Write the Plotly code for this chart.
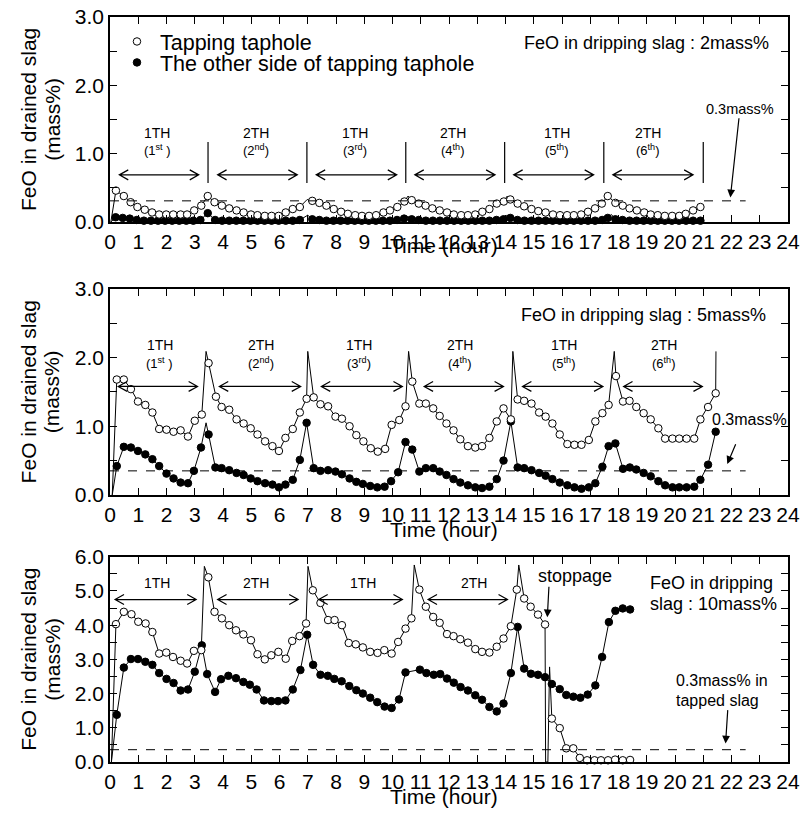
import plotly.graph_objects as go

# ---------------- DATA ----------------
X_TICKS = list(range(0, 25))

# Panel 1 : FeO in dripping slag 2 mass%
P1_T_OPEN = [0.21, 0.49, 0.73, 0.97, 1.23, 1.49, 1.74, 1.99, 2.24, 2.5, 2.73, 2.98, 3.23, 3.46,
             3.7, 3.96, 4.22, 4.48, 4.73, 4.99, 5.22, 5.48, 5.72, 5.97, 6.22, 6.47, 6.72,
             7.16, 7.41, 7.66, 7.92, 8.18, 8.42, 8.68, 8.92, 9.17, 9.42, 9.68, 9.91, 10.17, 10.42,
             10.68, 10.93, 11.17, 11.41, 11.67, 11.93, 12.17, 12.43, 12.67, 12.93, 13.18, 13.43, 13.69, 13.94,
             14.17, 14.43, 14.66, 14.92, 15.16, 15.42, 15.68, 15.93, 16.18, 16.42, 16.68, 16.92, 17.17, 17.41, 17.62,
             17.89, 18.15, 18.39, 18.65, 18.91, 19.14, 19.39, 19.64, 19.9, 20.15, 20.38, 20.64, 20.9]
P1_Y_OPEN = [0.46, 0.38, 0.29, 0.22, 0.18, 0.14, 0.11, 0.11, 0.11, 0.11, 0.11, 0.17, 0.24, 0.38,
             0.29, 0.24, 0.20, 0.17, 0.14, 0.11, 0.10, 0.09, 0.09, 0.09, 0.14, 0.19, 0.22,
             0.31, 0.28, 0.24, 0.19, 0.15, 0.12, 0.10, 0.09, 0.09, 0.10, 0.14, 0.17, 0.22, 0.30,
             0.32, 0.27, 0.24, 0.20, 0.17, 0.14, 0.11, 0.10, 0.10, 0.11, 0.15, 0.19, 0.27, 0.30,
             0.33, 0.27, 0.23, 0.19, 0.16, 0.14, 0.11, 0.10, 0.10, 0.10, 0.11, 0.15, 0.20, 0.27, 0.38,
             0.28, 0.24, 0.20, 0.17, 0.14, 0.11, 0.10, 0.09, 0.09, 0.09, 0.12, 0.17, 0.22]
P1_T_OPEN_SPIKE = [0.03, 6.98, 10.55, 14.06]
P1_Y_OPEN_SPIKE = [0.0, 0.33, 0.38, 0.38]

P1_T_FILL = [0.2, 0.45, 0.7, 0.95, 1.2, 1.45, 1.7, 1.95, 2.2, 2.45, 2.7, 2.95, 3.2, 3.46,
             3.72, 3.97, 4.22, 4.47, 4.72, 4.97, 5.22, 5.47, 5.72, 5.97, 6.22, 6.47, 6.72,
             7.16, 7.41, 7.66, 7.91, 8.16, 8.41, 8.66, 8.91, 9.16, 9.41, 9.66, 9.91, 10.16, 10.41,
             10.68, 10.93, 11.18, 11.43, 11.68, 11.93, 12.18, 12.43, 12.68, 12.93, 13.18, 13.43, 13.68, 13.93,
             14.17, 14.42, 14.67, 14.92, 15.17, 15.42, 15.67, 15.92, 16.17, 16.42, 16.67, 16.92, 17.17, 17.42, 17.62,
             17.89, 18.14, 18.39, 18.64, 18.89, 19.14, 19.39, 19.64, 19.89, 20.14, 20.39, 20.64, 20.9]
P1_Y_FILL = [0.07, 0.06, 0.05, 0.03, 0.02, 0.02, 0.02, 0.02, 0.02, 0.02, 0.02, 0.02, 0.03, 0.13,
             0.03, 0.02, 0.02, 0.02, 0.02, 0.02, 0.02, 0.02, 0.02, 0.02, 0.02, 0.02, 0.03,
             0.04, 0.03, 0.02, 0.02, 0.02, 0.02, 0.02, 0.02, 0.02, 0.02, 0.02, 0.02, 0.03, 0.05,
             0.04, 0.03, 0.02, 0.02, 0.02, 0.02, 0.02, 0.02, 0.02, 0.02, 0.02, 0.02, 0.03, 0.04,
             0.06, 0.03, 0.02, 0.02, 0.02, 0.02, 0.02, 0.02, 0.02, 0.02, 0.02, 0.02, 0.02, 0.03, 0.06,
             0.04, 0.03, 0.02, 0.02, 0.02, 0.02, 0.02, 0.02, 0.02, 0.02, 0.02, 0.02, 0.02]
P1_T_FILL_SPIKE = [0.03, 7.0, 10.55, 14.05, 17.75]
P1_Y_FILL_SPIKE = [0.0, 0.10, 0.08, 0.10, 0.11]

# Panel 2 : FeO in dripping slag 5 mass%
P2_T_OPEN = [0.24, 0.49, 0.74, 0.99, 1.25, 1.5, 1.74, 2.0, 2.25, 2.5, 2.76, 3.0, 3.25, 3.49,
             3.75, 3.95, 4.22, 4.48, 4.73, 4.98, 5.22, 5.49, 5.75, 5.98, 6.21, 6.47, 6.72, 6.96,
             7.21, 7.45, 7.72, 7.98, 8.21, 8.48, 8.72, 8.97, 9.23, 9.48, 9.74, 9.97, 10.24, 10.46, 10.7,
             10.95, 11.18, 11.44, 11.67, 11.91, 12.16, 12.4, 12.67, 12.93, 13.17, 13.43, 13.69, 13.93, 14.19,
             14.43, 14.66, 14.92, 15.19, 15.42, 15.66, 15.92, 16.19, 16.44, 16.69, 16.95, 17.18, 17.43, 17.65, 17.91,
             18.16, 18.39, 18.63, 18.89, 19.14, 19.41, 19.65, 19.91, 20.15, 20.41, 20.68, 20.9, 21.17, 21.44]
P2_Y_OPEN = [1.68, 1.68, 1.54, 1.36, 1.31, 1.20, 0.96, 0.95, 0.92, 0.94, 0.85, 1.08, 1.17, 1.92,
             1.43, 1.28, 1.24, 1.10, 1.04, 0.97, 0.88, 0.78, 0.71, 0.64, 0.83, 0.96, 1.20, 1.40,
             1.42, 1.32, 1.29, 1.14, 1.11, 1.00, 0.87, 0.78, 0.68, 0.63, 0.67, 1.02, 1.09, 1.29, 1.65,
             1.33, 1.33, 1.26, 1.15, 1.04, 0.94, 0.81, 0.71, 0.69, 0.71, 0.83, 1.07, 1.26, 1.10,
             1.39, 1.37, 1.33, 1.20, 1.14, 1.04, 0.88, 0.74, 0.73, 0.73, 0.80, 1.07, 1.19, 1.31, 1.73,
             1.36, 1.37, 1.28, 1.19, 1.10, 0.97, 0.82, 0.82, 0.82, 0.82, 0.82, 1.10, 1.28, 1.48]
P2_T_OPEN_SPIKE = [0.08, 3.40, 7.0, 10.57, 14.26, 17.85, 21.45]
P2_Y_OPEN_SPIKE = [0.0, 2.09, 2.09, 2.09, 2.09, 2.09, 2.09]

P2_T_FILL = [0.24, 0.49, 0.74, 0.99, 1.25, 1.5, 1.74, 2.0, 2.25, 2.5, 2.76, 2.97, 3.22, 3.49,
             3.73, 3.95, 4.22, 4.48, 4.73, 4.98, 5.22, 5.49, 5.75, 5.98, 6.21, 6.47, 6.72, 6.96,
             7.21, 7.45, 7.72, 7.98, 8.21, 8.48, 8.72, 8.95, 9.21, 9.46, 9.72, 9.95, 10.2, 10.46, 10.7,
             10.95, 11.18, 11.44, 11.67, 11.91, 12.16, 12.4, 12.67, 12.93, 13.17, 13.43, 13.69, 13.93, 14.19,
             14.43, 14.66, 14.92, 15.19, 15.42, 15.66, 15.92, 16.19, 16.44, 16.69, 16.95, 17.18, 17.43, 17.65, 17.89,
             18.16, 18.4, 18.63, 18.89, 19.14, 19.41, 19.65, 19.91, 20.15, 20.41, 20.68, 20.9, 21.17, 21.44]
P2_Y_FILL = [0.42, 0.70, 0.69, 0.64, 0.59, 0.52, 0.42, 0.31, 0.24, 0.18, 0.17, 0.35, 0.69, 0.88,
             0.40, 0.39, 0.36, 0.32, 0.29, 0.24, 0.20, 0.17, 0.15, 0.11, 0.15, 0.22, 0.51, 1.05,
             0.39, 0.35, 0.36, 0.34, 0.30, 0.24, 0.19, 0.16, 0.13, 0.11, 0.12, 0.20, 0.33, 0.77, 0.66,
             0.34, 0.39, 0.39, 0.34, 0.29, 0.23, 0.18, 0.14, 0.11, 0.10, 0.12, 0.23, 0.50, 1.07,
             0.40, 0.39, 0.36, 0.32, 0.28, 0.23, 0.18, 0.14, 0.11, 0.09, 0.11, 0.17, 0.41, 0.71, 0.75,
             0.38, 0.40, 0.37, 0.32, 0.27, 0.20, 0.14, 0.11, 0.11, 0.11, 0.12, 0.22, 0.44, 0.92]
P2_T_FILL_SPIKE = [0.08, 3.40]
P2_Y_FILL_SPIKE = [0.0, 1.05]

# Panel 3 : FeO in dripping slag 10 mass%
P3_T_OPEN = [0.21, 0.49, 0.76, 1.0, 1.26, 1.5, 1.74, 1.99, 2.23, 2.5, 2.73, 2.97, 3.23, 3.48,
             3.7, 3.96, 4.22, 4.46, 4.72, 4.99, 5.22, 5.48, 5.71, 5.96, 6.22, 6.45, 6.71, 6.94,
             7.18, 7.45, 7.72, 7.95, 8.21, 8.45, 8.7, 8.95, 9.21, 9.47, 9.71, 9.97, 10.2, 10.46, 10.67,
             10.95, 11.18, 11.44, 11.67, 11.93, 12.16, 12.4, 12.67, 12.93, 13.17, 13.43, 13.69, 13.93, 14.19,
             14.4, 14.66, 14.89, 15.15, 15.4,
             15.64, 15.92, 16.15, 16.4, 16.63, 16.89, 17.15, 17.38, 17.63, 17.88, 18.15, 18.41]
P3_Y_OPEN = [4.03, 4.39, 4.32, 4.10, 4.05, 3.80, 3.17, 3.20, 3.07, 2.96, 2.88, 3.25, 3.27, 5.40,
             4.39, 4.20, 4.00, 3.85, 3.73, 3.56, 3.15, 3.00, 3.12, 3.22, 3.02, 3.54, 3.68, 4.05,
             5.02, 4.65, 4.15, 4.15, 4.00, 3.48, 3.44, 3.35, 3.22, 3.19, 3.27, 3.17, 3.51, 3.90, 4.20,
             5.04, 4.54, 4.24, 4.07, 3.74, 3.68, 3.59, 3.49, 3.30, 3.22, 3.20, 3.37, 3.61, 3.97,
             5.04, 4.78, 4.54, 4.31, 4.02,
             1.27, 0.99, 0.40, 0.40, 0.12, 0.05, 0.05, 0.05, 0.05, 0.07, 0.05, 0.06]
P3_T_OPEN_SPIKE = [0.05, 3.34, 7.01, 10.77, 14.47, 15.42, 15.5, 15.56]
P3_Y_OPEN_SPIKE = [0.0, 5.72, 5.72, 5.76, 5.76, 0.0, 0.0, 2.78]

P3_T_FILL = [0.24, 0.49, 0.74, 0.99, 1.25, 1.5, 1.74, 2.0, 2.25, 2.5, 2.76, 3.0, 3.25, 3.44,
             3.72, 3.93, 4.19, 4.46, 4.72, 4.95, 5.19, 5.45, 5.71, 5.95, 6.21, 6.47, 6.74, 6.98,
             7.19, 7.45, 7.71, 7.94, 8.2, 8.47, 8.72, 8.95, 9.21, 9.46, 9.72, 9.97, 10.23, 10.46,
             10.97, 11.2, 11.46, 11.69, 11.93, 12.17, 12.41, 12.67, 12.93, 13.17, 13.43, 13.69, 13.93, 14.19,
             14.43, 14.66, 14.9, 15.15, 15.4, 15.64, 15.92, 16.15, 16.4, 16.65, 16.91, 17.18, 17.42, 17.66,
             17.89, 18.15, 18.41]
P3_Y_FILL = [1.38, 2.76, 3.01, 3.01, 2.93, 2.84, 2.60, 2.43, 2.31, 2.09, 2.12, 2.64, 3.41, 2.57,
             2.05, 2.42, 2.52, 2.45, 2.34, 2.26, 2.12, 1.80, 1.78, 1.78, 1.80, 2.12, 2.69, 3.72,
             2.84, 2.55, 2.52, 2.43, 2.36, 2.22, 2.10, 2.00, 1.88, 1.75, 1.62, 1.58, 1.83, 2.62,
             2.70, 2.60, 2.55, 2.57, 2.44, 2.32, 2.19, 2.09, 1.95, 1.82, 1.61, 1.48, 1.71, 2.60,
             3.95, 2.73, 2.58, 2.55, 2.48, 2.28, 2.13, 1.96, 1.91, 1.88, 1.97, 2.24, 3.07, 4.09,
             4.42, 4.49, 4.46]
P3_T_FILL_SPIKE = [0.05]
P3_Y_FILL_SPIKE = [0.0]

REF_LEVEL = [0.31, 0.35, 0.36]          # "0.3mass%" dashed reference per panel
REF_END = 22.5
TAP_TIMES_P1 = [3.47, 6.97, 10.47, 13.97, 17.48, 21.0]

HOLES_P12 = ["1TH", "2TH", "1TH", "2TH", "1TH", "2TH"]
ORDINALS = ["(1<sup>st</sup> )", "(2<sup>nd</sup>)", "(3<sup>rd</sup>)",
            "(4<sup>th</sup>)", "(5<sup>th</sup>)", "(6<sup>th</sup>)"]
HOLES_P3 = ["1TH", "2TH", "1TH", "2TH"]

P1_ARROWS = [(0.33, 3.14), (3.81, 6.63), (7.3, 10.15), (10.79, 13.63), (14.29, 17.12), (17.8, 20.64)]
P1_LABEL_X = [1.67, 5.16, 8.68, 12.14, 15.81, 19.06]
P2_ARROWS = [(0.29, 3.1), (3.87, 6.75), (7.48, 10.35), (11.12, 13.93), (14.6, 17.45), (18.18, 20.97)]
P2_LABEL_X = [1.76, 5.33, 8.8, 12.4, 16.07, 19.6]
P3_ARROWS = [(0.18, 3.05), (3.81, 6.66), (7.39, 10.35), (11.26, 14.07)]
P3_LABEL_X = [1.65, 5.16, 8.97, 12.9]

# ---------------- FIGURE ----------------
FONT = "Arial, Liberation Sans, sans-serif"
W, H = 805, 814
YS, Y0 = 0.986, 10.0         # page capture: screen_row = Y0 + YS * figure_row


def fy(ry):                  # wanted screen row -> figure row
    return (ry - Y0) / YS


ML, MR = 110, 13
MT = fy(15)
MB = H - fy(761.7)
PW = W - ML - MR
PH = H - MT - MB


def py(ry):  # screen row -> paper y
    return (H - MB - fy(ry)) / PH


def px(rx):
    return (rx - ML) / PW


panels = [
    dict(x="x", y="y", dom=[py(220.5), 1.0], ymax=3.0),
    dict(x="x2", y="y2", dom=[py(494), py(287.5)], ymax=3.0),
    dict(x="x3", y="y3", dom=[0.0, py(556)], ymax=6.0),
]

fig = go.Figure()


def add_series(pi, t_mk, y_mk, t_sp, y_sp, filled, name, legend):
    p = panels[pi]
    pts = sorted(zip(list(t_mk) + list(t_sp), list(y_mk) + list(y_sp)))
    fig.add_trace(go.Scatter(x=[a for a, b in pts], y=[b for a, b in pts], mode="lines",
                             line=dict(color="black", width=1), xaxis=p["x"], yaxis=p["y"],
                             showlegend=False, hoverinfo="skip", cliponaxis=False))
    fig.add_trace(go.Scatter(x=t_mk, y=y_mk, mode="markers", name=name,
                             marker=dict(symbol="circle", size=7.5,
                                         color="black" if filled else "white",
                                         line=dict(color="black", width=1)),
                             xaxis=p["x"], yaxis=p["y"], cliponaxis=False,
                             showlegend=legend is not None, legend=legend or "legend"))


add_series(0, P1_T_FILL, P1_Y_FILL, P1_T_FILL_SPIKE, P1_Y_FILL_SPIKE, True,
           "The other side of tapping taphole", "legend2")
add_series(0, P1_T_OPEN, P1_Y_OPEN, P1_T_OPEN_SPIKE, P1_Y_OPEN_SPIKE, False,
           "Tapping taphole", "legend")
add_series(1, P2_T_FILL, P2_Y_FILL, P2_T_FILL_SPIKE, P2_Y_FILL_SPIKE, True, "fill2", None)
add_series(1, P2_T_OPEN, P2_Y_OPEN, P2_T_OPEN_SPIKE, P2_Y_OPEN_SPIKE, False, "open2", None)
add_series(2, P3_T_FILL, P3_Y_FILL, P3_T_FILL_SPIKE, P3_Y_FILL_SPIKE, True, "fill3", None)
add_series(2, P3_T_OPEN, P3_Y_OPEN, P3_T_OPEN_SPIKE, P3_Y_OPEN_SPIKE, False, "open3", None)

layout = dict(
    width=W, height=H, margin=dict(l=ML, r=MR, t=MT, b=MB),
    paper_bgcolor="white", plot_bgcolor="white",
    font=dict(family=FONT, color="black", size=21),
    legend=dict(x=px(114), y=py(19), xanchor="left", yanchor="top",
                font=dict(family=FONT, size=21.5), bgcolor="rgba(0,0,0,0)",
                itemwidth=36, tracegroupgap=0),
    legend2=dict(x=px(114), y=py(40), xanchor="left", yanchor="top",
                 font=dict(family=FONT, size=21.5), bgcolor="rgba(0,0,0,0)",
                 itemwidth=36, tracegroupgap=0),
)

for i, p in enumerate(panels):
    k = "" if i == 0 else str(i + 1)
    step = 0.5
    n = int(round(p["ymax"] / step))
    yv = [j * step for j in range(n + 1)]
    yt = [f"{v:.1f}" if abs(v - round(v)) < 1e-9 else "" for v in yv]
    layout["xaxis" + k] = dict(domain=[0, 1], anchor="y" + k, range=[0, 24],
                               tickvals=X_TICKS, ticktext=[str(v) for v in X_TICKS],
                               ticks="inside", ticklen=7, tickwidth=1.3, tickcolor="black",
                               showline=True, linecolor="black", linewidth=1.6,
                               mirror="ticks", showgrid=False, zeroline=False,
                               tickfont=dict(size=21, family=FONT))
    layout["yaxis" + k] = dict(domain=p["dom"], anchor="x" + k, range=[0, p["ymax"]],
                               tickvals=yv, ticktext=yt,
                               ticks="inside", ticklen=7, tickwidth=1.3, tickcolor="black",
                               showline=True, linecolor="black", linewidth=1.6,
                               mirror="ticks", showgrid=False, zeroline=False,
                               tickfont=dict(size=21, family=FONT))

fig.update_layout(**layout)

# reference dashed lines
for i, p in enumerate(panels):
    fig.add_shape(type="line", xref=p["x"], yref=p["y"], x0=0, x1=REF_END,
                  y0=REF_LEVEL[i], y1=REF_LEVEL[i], line=dict(color="black", width=1, dash="dash"))

# vertical tap-change marks in panel 1
for t in TAP_TIMES_P1:
    fig.add_shape(type="line", xref="x", yref="y", x0=t, x1=t, y0=0.57, y1=1.17,
                  line=dict(color="black", width=1.2))

ppu = [(220.5 - 15) / 3.0, (494 - 287.5) / 3.0, (761.7 - 556) / 6.0]  # px per y unit
ppx = PW / 24.0


def dbl_arrow(pi, a, b, y):
    p = panels[pi]
    dx = 9 / ppx
    dy = 5 / ppu[pi]
    path = (f"M {a+dx},{y+dy} L {a},{y} L {a+dx},{y-dy} M {a},{y} L {b},{y} "
            f"M {b-dx},{y+dy} L {b},{y} L {b-dx},{y-dy}")
    fig.add_shape(type="path", xref=p["x"], yref=p["y"], path=path,
                  line=dict(color="black", width=1.2))


def text(pi, x, y, s, size, anchor="center"):
    p = panels[pi]
    fig.add_annotation(xref=p["x"], yref=p["y"], x=x, y=y, text=s, showarrow=False,
                       xanchor=anchor, yanchor="middle", font=dict(size=size, family=FONT))


def arrow(pi, x0, y0, x1, y1):
    p = panels[pi]
    fig.add_annotation(xref=p["x"], yref=p["y"], axref=p["x"], ayref=p["y"],
                       x=x1, y=y1, ax=x0, ay=y0, text="", showarrow=True,
                       arrowhead=2, arrowsize=1.3, arrowwidth=1.2, arrowcolor="black")


# panel 1 labels
for (a, b), lx, h, o in zip(P1_ARROWS, P1_LABEL_X, HOLES_P12, ORDINALS):
    dbl_arrow(0, a, b, 0.69)
    text(0, lx, 1.30, h, 14)
    text(0, lx, 1.05, o, 13)
text(0, 14.6, 2.62, "FeO in dripping slag : 2mass%", 18, "left")
text(0, 22.31, 1.66, "0.3mass%", 14.5)
arrow(0, 22.27, 1.54, 21.96, 0.36)

# panel 2 labels
for (a, b), lx, h, o in zip(P2_ARROWS, P2_LABEL_X, HOLES_P12, ORDINALS):
    dbl_arrow(1, a, b, 1.58)
    text(1, lx, 2.18, h, 14)
    text(1, lx, 1.92, o, 13)
text(1, 14.49, 2.62, "FeO in dripping slag : 5mass%", 18, "left")
text(1, 22.62, 1.10, "0.3mass%", 16)
arrow(1, 22.17, 0.76, 21.85, 0.45)

# panel 3 labels
for (a, b), lx, h in zip(P3_ARROWS, P3_LABEL_X, HOLES_P3):
    dbl_arrow(2, a, b, 4.75)
    text(2, lx, 5.24, h, 14)
text(2, 16.47, 5.45, "stoppage", 18)
arrow(2, 15.54, 5.17, 15.48, 4.23)
text(2, 19.05, 5.24, "FeO in dripping", 18, "left")
text(2, 19.03, 4.63, "slag : 10mass%", 18, "left")
text(2, 19.97, 2.38, "0.3mass% in", 16, "left")
text(2, 19.95, 1.80, "tapped slag", 16, "left")
arrow(2, 21.87, 1.56, 21.79, 0.54)

# axis titles
x_title_rows = [244, 529, 796]
panel_mid_rows = [(15 + 220.5) / 2, (287.5 + 494) / 2, (556 + 761.7) / 2]
for i in range(3):
    fig.add_annotation(xref="paper", yref="paper", x=px(446), y=py(x_title_rows[i]),
                       text="Time (hour)", showarrow=False, xanchor="center", yanchor="middle",
                       font=dict(size=21, family=FONT))
    fig.add_annotation(xref="paper", yref="paper", x=px(28), y=py(panel_mid_rows[i]),
                       text="FeO in drained slag", showarrow=False, textangle=-90,
                       xanchor="center", yanchor="middle", font=dict(size=21, family=FONT))
    fig.add_annotation(xref="paper", yref="paper", x=px(52), y=py(panel_mid_rows[i]),
                       text="(mass%)", showarrow=False, textangle=-90,
                       xanchor="center", yanchor="middle", font=dict(size=21, family=FONT))

fig.write_html("out.html", config={"displayModeBar": False},
               post_script="document.body.style.margin='0';document.body.style.overflow='hidden';")
